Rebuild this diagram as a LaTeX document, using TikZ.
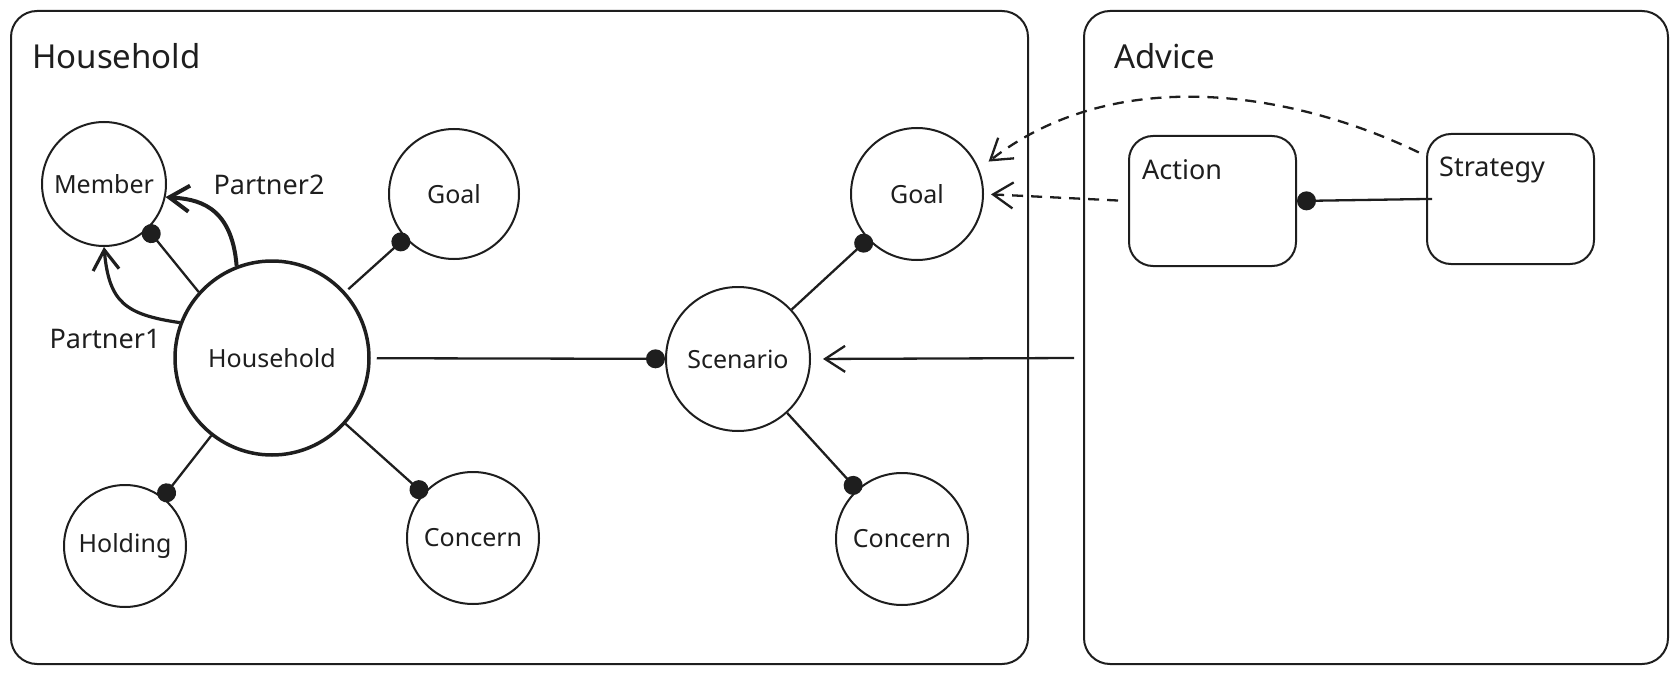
\documentclass[tikz,border=0pt]{standalone}
\usepackage{fontspec}
\setmainfont{Noto Sans}
\usetikzlibrary{arrows.meta,calc}
\definecolor{ink}{HTML}{1E1E1E}
\begin{document}
\begin{tikzpicture}[x=1pt,y=-1pt,
  line/.style={draw=ink, line width=2.3pt},
  frame/.style={draw=ink, line width=2pt, rounded corners=26pt},
  entity/.style={circle, draw=ink, line width=2pt, inner sep=0pt, text=ink,
    font=\fontsize{25}{30}\selectfont},
  box/.style={rectangle, draw=ink, line width=2pt, rounded corners=24pt,
    minimum width=167pt, minimum height=130pt, inner sep=0pt},
  title/.style={anchor=west, inner sep=0pt, text=ink, font=\fontsize{33}{40}\selectfont},
  caption/.style={inner sep=0pt, text=ink, font=\fontsize{27}{32}\selectfont},
  barb/.style={-{Straight Barb[length=20pt,width=26pt]}},
  dot/.style={-{Circle[length=19pt,width=19pt]}},
  dashline/.style={line, dash pattern=on 11pt off 8pt},
]
\useasboundingbox (0,0) rectangle (1679,674);

% containers
\draw[frame] (11,11) rectangle (1028,664);
\draw[frame] (1084,11) rectangle (1668,664);
\node[title] (tHousehold) at (32,56) {Household};
\node[title] (tAdvice) at (1114,56) {Advice};

% household entities
\node[entity, minimum size=124pt] (member) at (104,184) {Member};
\node[entity, minimum size=130pt] (goalA) at (454,194) {Goal};
\node[entity, minimum size=194pt, line width=3.5pt] (hh) at (272,358) {Household};
\node[entity, minimum size=122pt] (holding) at (125,546) {Holding};
\node[entity, minimum size=132pt] (concernA) at (473,538) {Concern};

% scenario entities
\node[entity, minimum size=144pt] (scen) at (738,359) {Scenario};
\node[entity, minimum size=132pt] (goalB) at (917,194) {Goal};
\node[entity, minimum size=132pt] (concernB) at (902,539) {Concern};

% advice boxes
\node[box] (action) at (1212.5,201) {};
\node[box] (strategy) at (1510.5,199) {};
\node[caption, anchor=west] (actionText) at (1142,170) {Action};
\node[caption, anchor=west] (strategyText) at (1439,170) {Strategy};

% relation labels
\node[caption] (lP2) at (269,185) {Partner2};
\node[caption] (lP1) at (105,339) {Partner1};

% relations
\draw[line, dot, shorten >=-4pt] (hh.138) -- (member.-46);
\draw[line, dot, shorten <=4pt, shorten >=-4pt] (hh) -- (goalA);
\draw[line, dot, shorten >=-4pt] (hh) -- (holding);
\draw[line, dot, shorten >=-4pt] (hh) -- (concernA);
\draw[line, dot, shorten <=6pt] (hh) -- (scen);
\draw[line, dot, shorten >=-4pt] (scen) -- (goalB);
\draw[line, dot, shorten >=-4pt] (scen) -- (concernB);
\draw[line, dot, shorten <=-6pt] (strategy.west) -- (action.east);

% partner links
\draw[line, line width=4pt, barb] (hh.111) .. controls +(-5,-62) and +(30,2) .. (member.-12);
\draw[line, line width=3.2pt, barb] (hh.159) .. controls +(-55,-8) and +(5,55) .. (member.-90);

% advice references
\coordinate (advIn) at (1074,358);
\draw[line, barb, shorten >=12pt] (advIn) -- (scen.east);
\draw[dashline, barb, shorten <=10pt, shorten >=7pt] (action.west) -- (goalB.east);
\draw[dashline, barb, shorten <=8pt, shorten >=12pt]
  (strategy.153) .. controls (1300,95) and (1120,60) .. (goalB.22);
\end{tikzpicture}
\end{document}
